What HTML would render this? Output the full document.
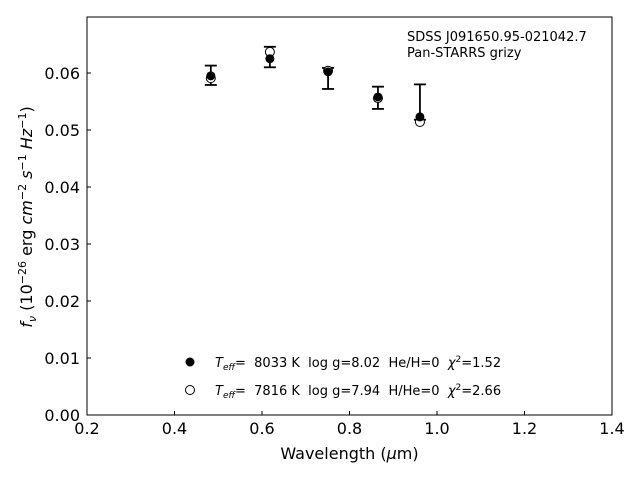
<!DOCTYPE html>
<html><head><meta charset="utf-8"><style>
body{margin:0;background:#fff;}
svg{display:block;font-family:"DejaVu Sans","Liberation Sans",sans-serif;}
text{white-space:pre;}
</style></head><body>
<svg id="c" width="640" height="480" xml:space="preserve">
<rect x="87" y="17" width="525" height="398" fill="none" stroke="#000" stroke-width="1"/>
<g id="g"></g>
<text x="407" y="41" font-size="13">SDSS J091650.95-021042.7</text>
<text x="407" y="57" font-size="13">Pan-STARRS grizy</text>
<text x="349.5" y="459" font-size="16" text-anchor="middle">Wavelength (<tspan font-style="italic">μ</tspan>m)</text>
<text transform="translate(32,217) rotate(-90)" font-size="16" text-anchor="middle"><tspan font-style="italic">f<tspan font-size="11" dy="4">ν</tspan></tspan><tspan dy="-4"> (10</tspan><tspan font-size="11" dy="-6">−26</tspan><tspan dy="6"> erg </tspan><tspan font-style="italic">cm</tspan><tspan font-size="11" dy="-6">−2</tspan><tspan dy="6" font-style="italic"> s</tspan><tspan font-size="11" dy="-6">−1</tspan><tspan dy="6" font-style="italic"> Hz</tspan><tspan font-size="11" dy="-6">−1</tspan><tspan dy="6">)</tspan></text>
<g>
<circle cx="190" cy="362" r="4.5" fill="#000"/>
<text x="215" y="367" font-size="13"><tspan font-style="italic">T<tspan font-size="9" dy="3">eff</tspan></tspan><tspan dy="-3">=  8033 K  log g=8.02  He/H=0  </tspan><tspan font-style="italic">χ</tspan><tspan font-size="9" dy="-5">2</tspan><tspan dy="5">=1.52</tspan></text>
<circle cx="190" cy="390" r="4.5" fill="#fff" stroke="#000"/>
<text x="215" y="395" font-size="13"><tspan font-style="italic">T<tspan font-size="9" dy="3">eff</tspan></tspan><tspan dy="-3">=  7816 K  log g=7.94  H/He=0  </tspan><tspan font-style="italic">χ</tspan><tspan font-size="9" dy="-5">2</tspan><tspan dy="5">=2.66</tspan></text>
</g>
</svg>
<script>
const wavelengths=[0.483,0.618,0.751,0.865,0.961];
const errLow=[0.0579,0.0610,0.0572,0.0537,0.0518];
const errHigh=[0.0613,0.0646,0.0609,0.0576,0.0580];
const model1=[0.0595,0.0625,0.0602,0.0558,0.0523];
const model2=[0.0591,0.0637,0.0604,0.0556,0.0514];
const xTicks=[0.2,0.4,0.6,0.8,1.0,1.2,1.4];
const yTicks=[0,0.01,0.02,0.03,0.04,0.05,0.06];
const xs=v=>87+(v-0.2)*437.5;
const ys=v=>415-v*5700;
const NS="http://www.w3.org/2000/svg";
const g=document.getElementById('g');
function mk(t,a){const e=document.createElementNS(NS,t);for(const k in a)e.setAttribute(k,a[k]);g.appendChild(e);return e;}
xTicks.forEach(t=>{
 const x=xs(t);
 const l=mk('line',{x1:x,x2:x,y1:415,y2:411,stroke:'#000'});
 
 
 const tx=mk('text',{x:x,y:434,'font-size':16,'text-anchor':'middle'});
 tx.textContent=t.toFixed(1);
 
 
});
yTicks.forEach(t=>{
 const y=ys(t);
 const l=mk('line',{x1:87,x2:91,y1:y,y2:y,stroke:'#000'});
 
 
 const tx=mk('text',{x:80,y:y+6,'font-size':16,'text-anchor':'end'});
 tx.textContent=t.toFixed(2);
 
 
});
wavelengths.forEach((w,i)=>{
 const x=xs(w);
 const a=mk('line',{x1:x,x2:x,y1:ys(errLow[i]),y2:ys(errHigh[i]),stroke:'#000','stroke-width':1.8});
 
 
 [errLow[i],errHigh[i]].forEach(v=>{
  const c=mk('line',{x1:x-6,x2:x+6,y1:ys(v),y2:ys(v),stroke:'#000','stroke-width':1.8});
  
  
 });
});
wavelengths.forEach((w,i)=>{
 const c=mk('circle',{cx:xs(w),cy:ys(model2[i]),r:4.5,fill:'#fff',stroke:'#000'});
 
 
});
wavelengths.forEach((w,i)=>{
 const c=mk('circle',{cx:xs(w),cy:ys(model1[i]),r:4.5,fill:'#000'});
 
 
});
</script>
</body></html>
